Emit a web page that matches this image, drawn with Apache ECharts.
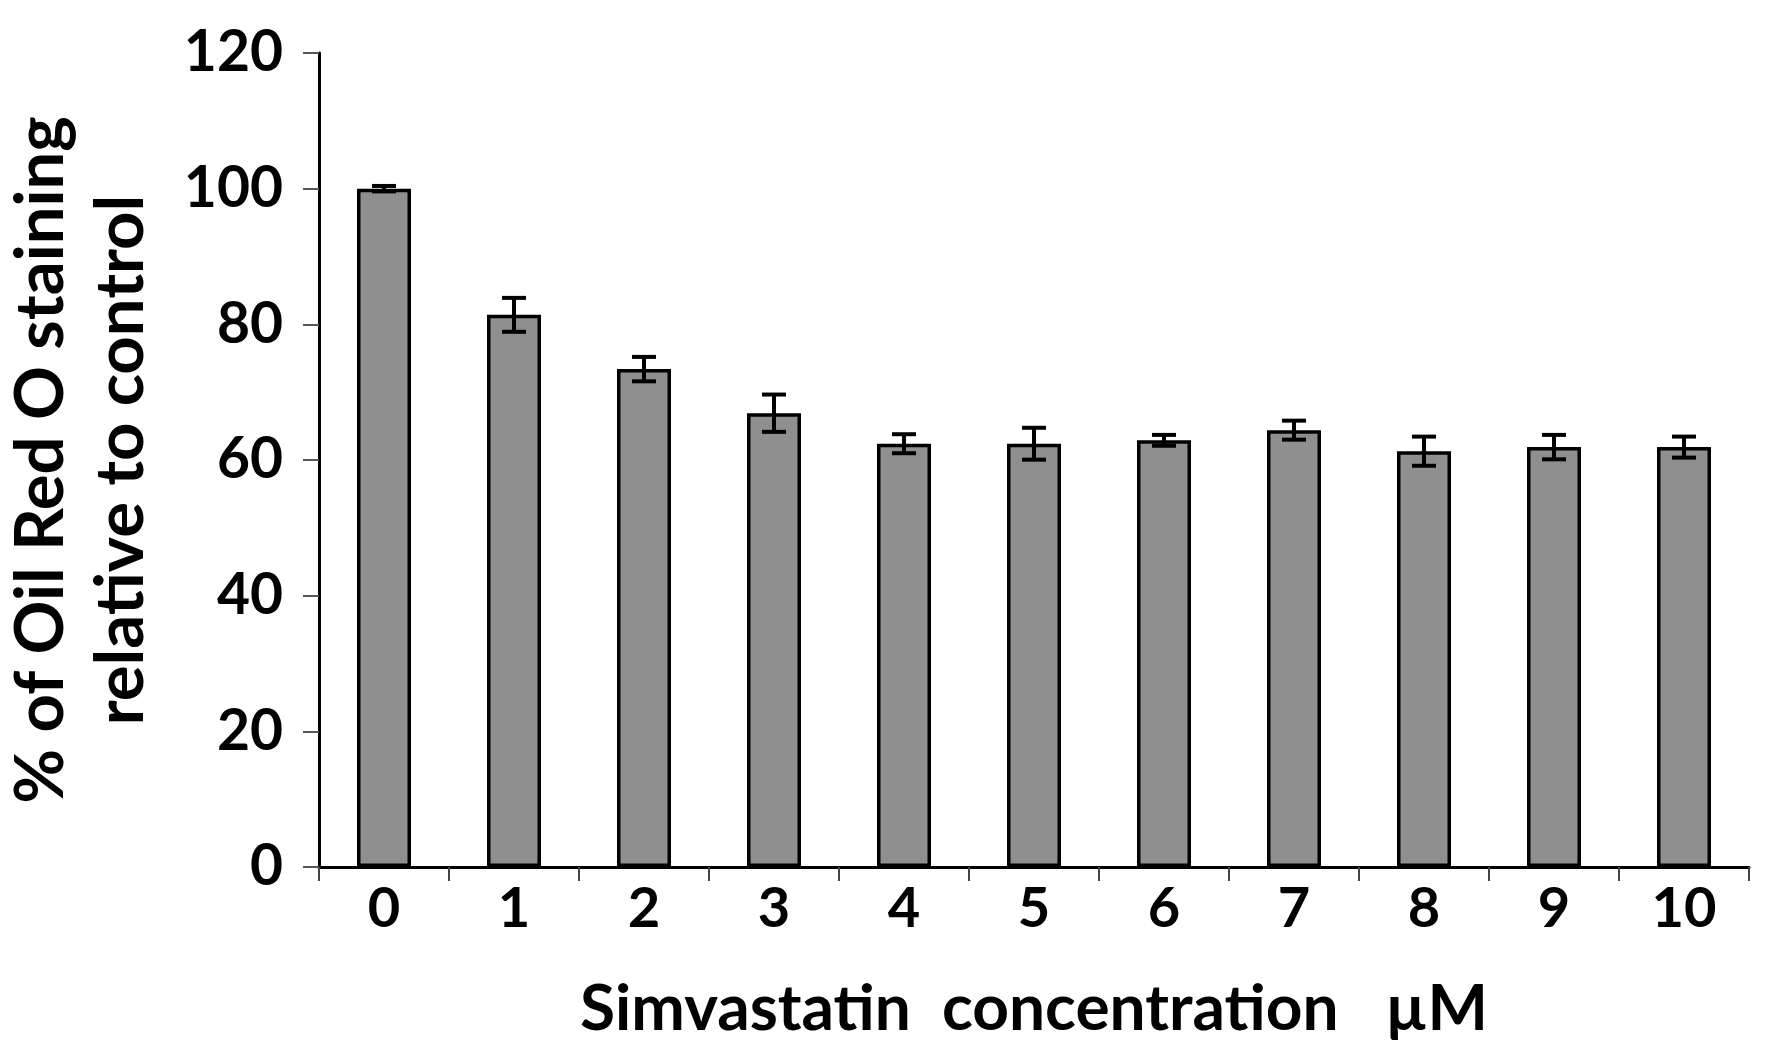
<!DOCTYPE html>
<html>
<head>
<meta charset="utf-8">
<script src="https://cdn.jsdelivr.net/npm/echarts@6/dist/echarts.min.js"></script>
<style>html,body{margin:0;padding:0;background:#fff;}#c{width:1772px;height:1042px;}</style>
</head>
<body>
<div id="c"></div>
<script>
const categories = ['0','1','2','3','4','5','6','7','8','9','10'];
const values = [100, 81.4, 73.4, 66.9, 62.4, 62.4, 62.9, 64.4, 61.3, 61.9, 61.9];
const errors = [0.4, 2.5, 1.8, 2.75, 1.4, 2.35, 0.8, 1.4, 2.15, 1.8, 1.55];
const yTicks = [0, 20, 40, 60, 80, 100, 120];

const FONT = 'Lato';
const errData = categories.map((c, i) => [i, values[i], errors[i]]);

const chart = echarts.init(document.getElementById('c'), null, {renderer: 'canvas'});
chart.setOption({
  backgroundColor: '#fff',
  animation: false,
  grid: {left: 319, right: 23, top: 53, bottom: 175, containLabel: false, outerBoundsMode: 'none'},
  xAxis: {
    type: 'category',
    data: categories,
    boundaryGap: true,
    name: 'Simvastatin  concentration   \u00B5M',
    nameLocation: 'middle',
    nameGap: 110,
    nameTextStyle: {fontFamily: FONT, fontWeight: 'bold', fontSize: 64, color: '#000'},
    axisLine: {lineStyle: {color: '#000', width: 3}},
    axisTick: {show: true, interval: 0, alignWithLabel: false, length: 14, lineStyle: {color: '#444', width: 2}},
    axisLabel: {fontFamily: FONT, fontWeight: 'bold', fontSize: 56, color: '#000', margin: 14, interval: 0}
  },
  yAxis: {
    type: 'value',
    min: yTicks[0],
    max: yTicks[yTicks.length - 1],
    interval: 20,
    name: '% of Oil Red O staining\nrelative to control',
    nameLocation: 'middle',
    nameGap: 158,
    nameRotate: 90,
    nameTextStyle: {fontFamily: FONT, fontWeight: 'bold', fontSize: 67, color: '#000', lineHeight: 80},
    splitLine: {show: false},
    axisLine: {show: true, lineStyle: {color: '#000', width: 3}},
    axisTick: {show: true, length: 16, lineStyle: {color: '#555', width: 2}},
    axisLabel: {fontFamily: FONT, fontWeight: 'bold', fontSize: 57, color: '#000', margin: 36}
  },
  series: [
    {
      type: 'bar',
      data: values,
      barWidth: 54,
      itemStyle: {color: '#8f8f8f', borderColor: '#000', borderWidth: 3.5},
      z: 2
    },
    {
      type: 'custom',
      data: errData,
      z: 5,
      renderItem: function (params, api) {
        const x = api.value(0), y = api.value(1), e = api.value(2);
        const top = api.coord([x, y + e]);
        const bot = api.coord([x, y - e]);
        const hw = 12;
        const style = {stroke: '#000', lineWidth: 4};
        return {
          type: 'group',
          children: [
            {type: 'line', shape: {x1: top[0], y1: top[1], x2: bot[0], y2: bot[1]}, style: style},
            {type: 'line', shape: {x1: top[0] - hw, y1: top[1], x2: top[0] + hw, y2: top[1]}, style: style},
            {type: 'line', shape: {x1: bot[0] - hw, y1: bot[1], x2: bot[0] + hw, y2: bot[1]}, style: style}
          ]
        };
      }
    }
  ]
});
</script>
</body>
</html>
